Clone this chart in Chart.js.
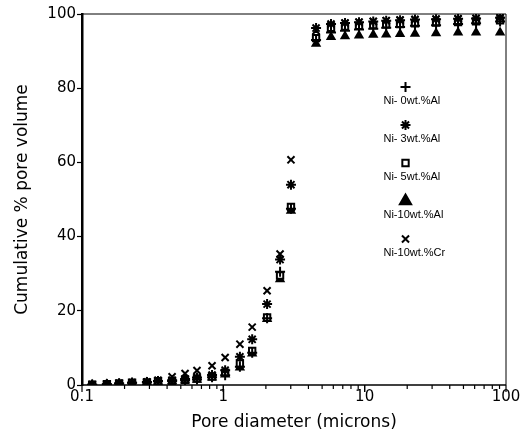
<!DOCTYPE html>
<html>
<head>
<meta charset="utf-8">
<script src="https://cdn.jsdelivr.net/npm/chart.js@4"></script>
<style>
  html, body { margin: 0; padding: 0; background: #fff; }
  #wrap { width: 526px; height: 434px; }
</style>
</head>
<body>
<div id="wrap"><canvas id="chart"></canvas></div>
<script>
// pore diameters (microns)
const diameters = [0.118, 0.150, 0.183, 0.226, 0.288, 0.345, 0.434, 0.536, 0.651, 0.832,
                   1.03, 1.31, 1.60, 2.04, 2.52, 3.01,
                   4.53, 5.78, 7.26, 9.12, 11.5, 14.2, 17.8, 22.7, 32.0, 45.8, 61.4, 90.8];

// cumulative % pore volume for each alloy
const ni0Al  = [0.1, 0.2, 0.4, 0.6, 0.7, 1.0, 1.1, 1.3, 1.5, 2.1, 2.6, 4.9, 8.7, 18.0, 30.5, 47.5,
                93.0, 95.0, 95.5, 95.8, 96.0, 96.3, 96.5, 96.8, 97.0, 97.3, 97.5, 98.0];
const ni3Al  = [0.1, 0.2, 0.4, 0.6, 0.8, 1.1, 1.3, 1.6, 2.0, 2.7, 4.0, 7.6, 12.3, 21.8, 33.8, 54.0,
                96.2, 97.3, 97.6, 97.8, 98.0, 98.2, 98.3, 98.5, 98.6, 98.7, 98.8, 99.0];
const ni5Al  = [0.1, 0.2, 0.4, 0.6, 0.7, 1.0, 1.1, 1.4, 1.7, 2.3, 3.3, 5.8, 9.2, 18.2, 29.5, 48.0,
                93.5, 96.3, 96.6, 96.8, 97.0, 97.2, 97.3, 97.5, 97.7, 97.8, 98.0, 98.3];
const ni10Al = [0.1, 0.2, 0.3, 0.5, 0.7, 0.9, 1.0, 1.2, 1.4, 2.0, 2.8, 4.7, 8.5, 17.8, 28.5, 47.0,
                92.0, 93.8, 94.0, 94.2, 94.4, 94.5, 94.6, 94.7, 94.8, 95.0, 95.0, 95.0];
const ni10Cr = [0.1, 0.2, 0.4, 0.6, 0.8, 1.3, 2.2, 3.1, 3.9, 5.2, 7.4, 11.0, 15.6, 25.4, 35.3, 60.7,
                95.5, 97.0, 97.5, 97.8, 98.0, 98.2, 98.4, 98.5, 98.6, 98.7, 98.8, 99.0];

const seriesNames = ["Ni- 0wt.%Al", "Ni- 3wt.%Al", "Ni- 5wt.%Al", "Ni-10wt.%Al", "Ni-10wt.%Cr"];
const xTickValues = [0.1, 1, 10, 100];
const yTickValues = [0, 20, 40, 60, 80, 100];

const AXIS_FONT = "'DejaVu Sans', Verdana, sans-serif";
const LEGEND_FONT = "'Liberation Sans', Arial, Helvetica, sans-serif";

function pairs(values) {
  return values.map((v, i) => ({ x: diameters[i], y: v }));
}

const styles = [
  { pointStyle: "cross",    radius: 5,   fill: "#000" },
  { pointStyle: "star",     radius: 5,   fill: "#000" },
  { pointStyle: "rect",     radius: 4.5, fill: "#fff" },
  { pointStyle: "triangle", radius: 4,   fill: "#000" },
  { pointStyle: "crossRot", radius: 5,   fill: "#000" }
];

const allSeries = [ni0Al, ni3Al, ni5Al, ni10Al, ni10Cr];

const datasets = allSeries.map((vals, i) => ({
  label: seriesNames[i],
  data: pairs(vals),
  showLine: false,
  pointStyle: styles[i].pointStyle,
  pointRadius: styles[i].radius,
  pointBackgroundColor: styles[i].fill,
  pointBorderColor: "#000",
  pointBorderWidth: 2
}));

// frame, x ticks (major + minor) and the stacked legend
const decorPlugin = {
  id: "decor",
  afterDraw(chart) {
    const ctx = chart.ctx;
    const a = chart.chartArea;
    const xs = chart.scales.x;
    ctx.save();
    ctx.strokeStyle = "#000";
    ctx.lineWidth = 1;
    ctx.beginPath();
    ctx.moveTo(a.left, a.top);
    ctx.lineTo(a.right, a.top);
    ctx.lineTo(a.right, a.bottom);
    ctx.stroke();
    ctx.lineWidth = 1.5;
    ctx.beginPath();
    ctx.moveTo(a.left, a.bottom);
    ctx.lineTo(a.right, a.bottom);
    ctx.stroke();

    // x tick marks
    ctx.lineWidth = 1.2;
    for (let d = 0.1; d < 100; d *= 10) {
      for (let k = 1; k <= 10; k++) {
        const v = d * k;
        const px = xs.getPixelForValue(v);
        const len = (k === 1 || k === 10) ? 7 : 4;
        ctx.beginPath();
        ctx.moveTo(px, a.bottom);
        ctx.lineTo(px, a.bottom + len);
        ctx.stroke();
      }
    }

    // legend: marker above its label
    const lx = a.left + (a.right - a.left) * 0.763;
    const textX = a.left + (a.right - a.left) * 0.711;
    const top = a.top + 73;
    const step = 38;
    ctx.font = "11px " + LEGEND_FONT;
    ctx.textBaseline = "middle";
    chart.data.datasets.forEach((ds, i) => {
      const my = top + i * step;
      ctx.fillStyle = styles[i].fill;
      ctx.strokeStyle = "#000";
      ctx.lineWidth = 2;
      const r = styles[i].pointStyle === "triangle" ? 6.5 : styles[i].radius;
      Chart.helpers.drawPoint(ctx, { pointStyle: styles[i].pointStyle, radius: r, rotation: 0, borderWidth: 2 }, lx, my);
      ctx.fillStyle = "#000";
      ctx.fillText(ds.label, textX, my + 14);
    });
    ctx.restore();
  }
};

new Chart(document.getElementById("chart"), {
  type: "scatter",
  data: { datasets: datasets },
  options: {
    responsive: true,
    maintainAspectRatio: false,
    animation: false,
    layout: { padding: { top: 14, right: 20, left: 0, bottom: 0 } },
    plugins: {
      legend: { display: false },
      tooltip: { enabled: false }
    },
    scales: {
      x: {
        type: "logarithmic",
        min: 0.1,
        max: 100,
        afterBuildTicks: s => { s.ticks = xTickValues.map(v => ({ value: v })); },
        afterFit: s => { s.height = 49; },
        grid: { display: false, drawTicks: false },
        border: { display: false },
        ticks: {
          color: "#000",
          font: { family: AXIS_FONT, size: 15 },
          padding: 3,
          maxRotation: 0,
          callback: v => String(v)
        },
        title: {
          display: true,
          text: "Pore diameter (microns)",
          color: "#000",
          font: { family: AXIS_FONT, size: 17 },
          padding: { top: 0, bottom: 1 }
        }
      },
      y: {
        min: 0,
        max: 100,
        afterBuildTicks: s => { s.ticks = yTickValues.map(v => ({ value: v })); },
        afterFit: s => { s.width = 82; },
        grid: { drawOnChartArea: false, tickLength: 5, color: "#000", tickWidth: 1.2 },
        border: { display: true, color: "#000", width: 2.5 },
        ticks: {
          color: "#000",
          font: { family: AXIS_FONT, size: 15 },
          padding: 1
        },
        title: {
          display: true,
          text: "Cumulative % pore volume",
          color: "#000",
          font: { family: AXIS_FONT, size: 17 },
          padding: { top: 12, bottom: 0 }
        }
      }
    }
  },
  plugins: [decorPlugin]
});
</script>
</body>
</html>
